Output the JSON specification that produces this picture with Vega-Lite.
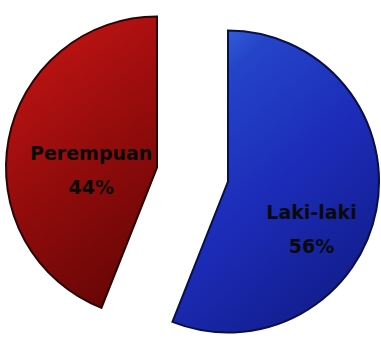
{
  "$schema": "https://vega.github.io/schema/vega-lite/v6.json",
  "autosize": {"type": "fit", "contains": "padding"},
  "width": 381,
  "height": 343,
  "padding": 0,
  "background": "white",
  "view": {"stroke": null},
  "data": {"values": [
    {"jenis": "Laki-laki", "persen": 56, "label": "Laki-laki\n56%"},
    {"jenis": "Perempuan", "persen": 44, "label": "Perempuan\n44%"}
  ]},
  "encoding": {
    "theta": {"field": "persen", "type": "quantitative", "stack": true},
    "order": {"field": "jenis", "type": "nominal", "sort": "ascending"}
  },
  "resolve": {"scale": {"opacity": "independent"}},
  "layer": [
    {
      "mark": {"type": "arc", "outerRadius": 151, "xOffset": 40, "yOffset": 10,
        "stroke": "#0a1045", "strokeWidth": 2,
        "fill": {"gradient": "linear", "x1": 0.1, "y1": 0, "x2": 0.7, "y2": 1,
          "stops": [{"offset": 0, "color": "#3a6ee0"}, {"offset": 0.18, "color": "#2444c8"}, {"offset": 0.55, "color": "#1c2cb8"}, {"offset": 1, "color": "#121c8a"}]}},
      "encoding": {
        "opacity": {"field": "jenis", "type": "nominal", "scale": {"domain": ["Laki-laki", "Perempuan"], "range": [1, 0]}, "legend": null}
      }
    },
    {
      "mark": {"type": "arc", "outerRadius": 151, "xOffset": -31, "yOffset": -4,
        "stroke": "#2a0505", "strokeWidth": 2,
        "fill": {"gradient": "linear", "x1": 0.2, "y1": 0, "x2": 0.6, "y2": 1,
          "stops": [{"offset": 0, "color": "#f02a22"}, {"offset": 0.15, "color": "#b81212"}, {"offset": 0.5, "color": "#960c0c"}, {"offset": 1, "color": "#6a0606"}]}},
      "encoding": {
        "opacity": {"field": "jenis", "type": "nominal", "scale": {"domain": ["Laki-laki", "Perempuan"], "range": [0, 1]}, "legend": null}
      }
    },
    {
      "mark": {"type": "text", "radius": 85, "xOffset": 40, "yOffset": 10, "dy": 16, "lineBreak": "\n", "lineHeight": 34,
        "font": "DejaVu Sans", "fontWeight": "bold", "fontSize": 19, "color": "#0a0a0a", "align": "center", "baseline": "middle"},
      "encoding": {
        "text": {"field": "label"},
        "opacity": {"field": "jenis", "type": "nominal", "scale": {"domain": ["Laki-laki", "Perempuan"], "range": [1, 0]}, "legend": null}
      }
    },
    {
      "mark": {"type": "text", "radius": 67, "xOffset": -31, "yOffset": -4, "dy": -1, "lineBreak": "\n", "lineHeight": 34,
        "font": "DejaVu Sans", "fontWeight": "bold", "fontSize": 19, "color": "#0a0a0a", "align": "center", "baseline": "middle"},
      "encoding": {
        "text": {"field": "label"},
        "opacity": {"field": "jenis", "type": "nominal", "scale": {"domain": ["Laki-laki", "Perempuan"], "range": [0, 1]}, "legend": null}
      }
    }
  ]
}
